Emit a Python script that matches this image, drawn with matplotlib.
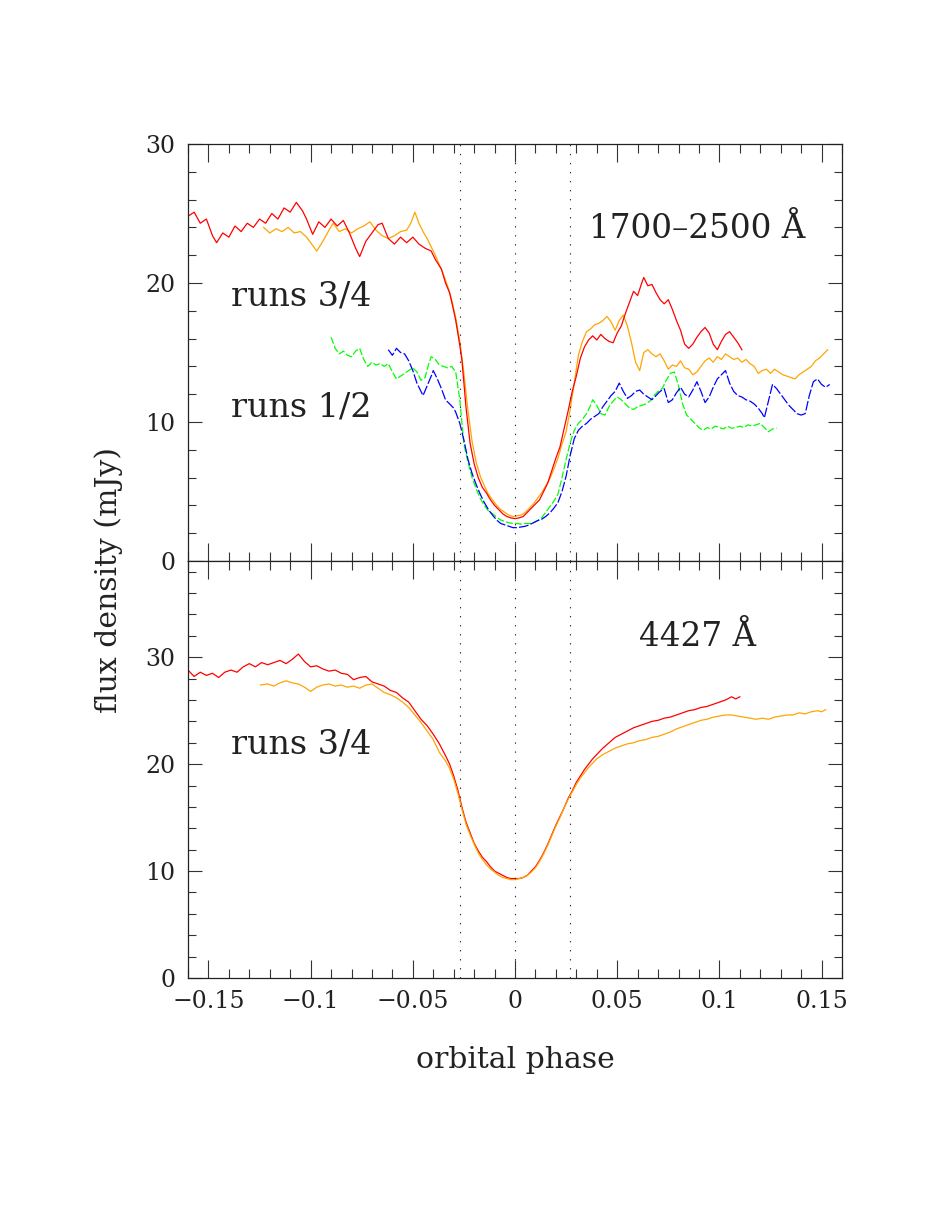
import matplotlib
matplotlib.use("Agg")
import matplotlib.pyplot as plt
from matplotlib.ticker import FixedLocator, MultipleLocator

plt.rcParams['font.family'] = ['DejaVu Serif', 'DejaVu Sans']
plt.rcParams['lines.scale_dashes'] = False

# ---- datos ----
# panel superior, 1700-2500 A
top_red_x = [-0.160, -0.157, -0.154, -0.151, -0.148, -0.146, -0.143, -0.140, -0.137, -0.134,
             -0.131, -0.128, -0.125, -0.122, -0.119, -0.116, -0.113, -0.110, -0.107, -0.104,
             -0.102, -0.099, -0.096, -0.093, -0.090, -0.087, -0.084, -0.081, -0.078, -0.076,
             -0.073, -0.070, -0.067, -0.065, -0.062, -0.059, -0.056, -0.053, -0.050, -0.047,
             -0.044, -0.041, -0.039, -0.036, -0.034, -0.032, -0.030, -0.029, -0.027, -0.026,
             -0.024, -0.022, -0.020, -0.018, -0.016, -0.014, -0.012, -0.010, -0.008, -0.006,
             -0.004, -0.002, 0.000, 0.002, 0.004, 0.006, 0.008, 0.010, 0.012, 0.014,
             0.016, 0.018, 0.020, 0.022, 0.024, 0.026, 0.028, 0.030, 0.032, 0.034,
             0.036, 0.038, 0.040, 0.042, 0.044, 0.046, 0.048, 0.050, 0.052, 0.054,
             0.056, 0.058, 0.060, 0.062, 0.063, 0.065, 0.067, 0.069, 0.071, 0.073,
             0.075, 0.077, 0.079, 0.081, 0.083, 0.085, 0.087, 0.089, 0.091, 0.093,
             0.095, 0.097, 0.099, 0.101, 0.103, 0.105, 0.107, 0.109, 0.111]
top_red_y = [24.8, 25.1, 24.3, 24.6, 23.4, 22.9, 23.6, 23.3, 24.1, 23.7,
             24.3, 24.0, 24.6, 24.3, 25.0, 24.6, 25.4, 25.1, 25.8, 25.2,
             24.6, 23.5, 24.4, 24.0, 24.6, 24.1, 24.5, 23.6, 22.5, 21.9,
             23.0, 23.6, 24.2, 24.3, 23.2, 22.8, 23.3, 22.9, 23.3, 22.8,
             22.5, 22.3, 21.7, 21.0, 20.0, 19.3, 18.0, 17.3, 15.5, 14.5,
             11.1, 8.5, 7.0, 6.0, 5.3, 4.9, 4.4, 4.0, 3.7, 3.4,
             3.2, 3.1, 3.05, 3.1, 3.2, 3.5, 3.8, 4.1, 4.4, 5.0,
             5.6, 6.5, 7.4, 8.2, 9.5, 10.8, 12.2, 13.3, 14.6, 15.4,
             15.9, 16.2, 15.9, 16.3, 16.0, 15.8, 15.7, 16.4, 16.9, 17.8,
             18.6, 19.4, 19.1, 20.0, 20.4, 19.8, 19.9, 19.3, 18.8, 18.5,
             18.8, 18.1, 17.3, 16.6, 15.6, 15.3, 15.6, 16.1, 16.5, 16.8,
             16.4, 15.6, 15.2, 15.8, 16.3, 16.5, 16.1, 15.7, 15.2]

top_orange_x = [-0.123, -0.120, -0.117, -0.114, -0.111, -0.108, -0.105, -0.102, -0.099, -0.097,
                -0.094, -0.091, -0.089, -0.086, -0.083, -0.080, -0.077, -0.074, -0.071, -0.068,
                -0.065, -0.062, -0.059, -0.056, -0.053, -0.051, -0.049, -0.047, -0.045, -0.043,
                -0.041, -0.039, -0.037, -0.035, -0.033, -0.031, -0.029, -0.027, -0.025, -0.023,
                -0.021, -0.019, -0.017, -0.015, -0.013, -0.011, -0.009, -0.007, -0.005, -0.003,
                -0.001, 0.001, 0.003, 0.005, 0.007, 0.009, 0.011, 0.013, 0.015, 0.017,
                0.019, 0.021, 0.023, 0.025, 0.027, 0.029, 0.031, 0.033, 0.035, 0.037,
                0.039, 0.041, 0.043, 0.045, 0.047, 0.049, 0.051, 0.053, 0.055, 0.057,
                0.059, 0.061, 0.063, 0.065, 0.067, 0.069, 0.071, 0.073, 0.075, 0.077,
                0.079, 0.081, 0.083, 0.085, 0.087, 0.089, 0.091, 0.093, 0.095, 0.097,
                0.099, 0.101, 0.103, 0.105, 0.107, 0.109, 0.111, 0.113, 0.115, 0.117,
                0.119, 0.121, 0.123, 0.125, 0.127, 0.129, 0.131, 0.133, 0.135, 0.137,
                0.139, 0.141, 0.143, 0.145, 0.147, 0.149, 0.151, 0.153]
top_orange_y = [24.0, 23.6, 23.9, 23.7, 24.0, 23.6, 23.7, 23.3, 22.7, 22.3,
                23.0, 23.8, 24.3, 23.7, 23.9, 23.6, 23.9, 24.1, 24.4, 23.8,
                23.4, 23.2, 23.4, 23.7, 23.8, 24.3, 25.1, 24.3, 23.7, 23.2,
                22.6, 22.0, 21.3, 20.6, 19.8, 18.8, 17.5, 15.8, 13.5, 10.8,
                8.6, 7.1, 6.1, 5.4, 4.8, 4.4, 4.0, 3.7, 3.5, 3.3,
                3.2, 3.25, 3.3, 3.5, 3.8, 4.1, 4.5, 4.9, 5.4, 5.9,
                6.6, 7.4, 8.4, 9.3, 10.9, 12.8, 14.8, 15.8, 16.5, 16.7,
                17.0, 17.1, 17.3, 17.6, 17.2, 16.6, 17.3, 17.7, 16.9, 15.7,
                14.3, 13.7, 15.0, 15.2, 14.9, 14.7, 14.9, 14.4, 13.8, 14.1,
                14.0, 14.4, 13.9, 13.8, 13.4, 13.6, 14.0, 14.4, 14.6, 14.3,
                14.7, 14.5, 14.9, 14.7, 14.5, 14.6, 14.3, 14.5, 14.2, 14.0,
                13.5, 13.7, 13.8, 13.5, 13.8, 13.6, 13.4, 13.3, 13.2, 13.1,
                13.4, 13.6, 13.8, 14.0, 14.4, 14.6, 14.9, 15.2]

top_blue_x = [-0.062, -0.060, -0.058, -0.056, -0.054, -0.052, -0.050, -0.048, -0.046, -0.045,
              -0.043, -0.041, -0.040, -0.038, -0.036, -0.034, -0.032, -0.030, -0.029, -0.027,
              -0.025, -0.023, -0.021, -0.019, -0.017, -0.015, -0.013, -0.011, -0.009, -0.007,
              -0.005, -0.003, -0.001, 0.001, 0.003, 0.005, 0.007, 0.009, 0.011, 0.013,
              0.015, 0.017, 0.019, 0.021, 0.023, 0.025, 0.027, 0.029, 0.031, 0.033,
              0.035, 0.037, 0.039, 0.041, 0.043, 0.045, 0.047, 0.049, 0.051, 0.053,
              0.055, 0.057, 0.059, 0.061, 0.063, 0.065, 0.067, 0.069, 0.071, 0.073,
              0.075, 0.077, 0.079, 0.081, 0.083, 0.085, 0.087, 0.089, 0.091, 0.093,
              0.095, 0.097, 0.099, 0.101, 0.103, 0.105, 0.107, 0.109, 0.111, 0.113,
              0.115, 0.117, 0.119, 0.121, 0.122, 0.124, 0.126, 0.128, 0.130, 0.132,
              0.134, 0.136, 0.138, 0.140, 0.142, 0.144, 0.146, 0.148, 0.150, 0.152, 0.154]
top_blue_y = [15.2, 14.8, 15.3, 15.0, 14.9, 14.4, 13.7, 12.8, 12.2, 11.9,
              12.6, 13.3, 13.7, 13.1, 12.4, 11.6, 11.3, 11.0, 10.7, 9.9,
              8.7, 7.3, 6.3, 5.5, 4.8, 4.2, 3.7, 3.3, 2.95, 2.7,
              2.6, 2.5, 2.4, 2.4, 2.45, 2.5, 2.6, 2.75, 2.9, 3.0,
              3.2, 3.45, 3.8, 4.2, 5.0, 6.1, 7.6, 8.8, 9.4, 9.7,
              9.9, 10.2, 10.4, 10.6, 11.1, 11.5, 11.9, 12.2, 12.8, 12.2,
              11.7, 11.9, 12.2, 12.3, 12.0, 11.8, 11.6, 11.9, 12.2, 12.4,
              11.4, 11.6, 12.1, 12.5, 12.0, 11.8, 12.3, 12.9, 12.2, 11.4,
              11.8, 12.5, 13.1, 13.4, 13.7, 12.8, 12.2, 11.9, 11.8, 11.6,
              11.5, 11.3, 11.0, 10.6, 10.3, 11.5, 12.7, 12.4, 12.0, 11.6,
              11.2, 10.9, 10.6, 10.5, 10.6, 11.9, 12.9, 13.1, 12.7, 12.5, 12.7]

top_green_x = [-0.090, -0.088, -0.086, -0.084, -0.082, -0.080, -0.078, -0.076, -0.074, -0.072,
               -0.070, -0.068, -0.066, -0.064, -0.062, -0.060, -0.058, -0.056, -0.054, -0.052,
               -0.050, -0.048, -0.046, -0.044, -0.042, -0.041, -0.039, -0.037, -0.035, -0.033,
               -0.031, -0.029, -0.027, -0.025, -0.023, -0.021, -0.019, -0.017, -0.015, -0.013,
               -0.011, -0.009, -0.007, -0.005, -0.003, -0.001, 0.001, 0.003, 0.005, 0.007,
               0.009, 0.011, 0.013, 0.015, 0.017, 0.019, 0.021, 0.023, 0.025, 0.027,
               0.029, 0.031, 0.033, 0.035, 0.037, 0.038, 0.040, 0.042, 0.044, 0.046,
               0.048, 0.050, 0.052, 0.054, 0.056, 0.058, 0.060, 0.062, 0.064, 0.066,
               0.068, 0.070, 0.072, 0.074, 0.076, 0.078, 0.080, 0.082, 0.084, 0.086,
               0.088, 0.090, 0.092, 0.094, 0.096, 0.098, 0.100, 0.102, 0.104, 0.106,
               0.108, 0.110, 0.112, 0.114, 0.116, 0.118, 0.120, 0.122, 0.124, 0.126, 0.128]
top_green_y = [16.1, 15.3, 14.9, 15.1, 14.8, 14.7, 15.1, 15.3, 14.5, 14.0,
               14.3, 14.1, 14.2, 14.0, 14.2, 13.6, 13.1, 13.3, 13.5, 13.7,
               13.9, 13.6, 13.0, 13.2, 14.3, 14.7, 14.5, 14.1, 14.0, 13.9,
               14.0, 13.6, 11.6, 8.4, 7.1, 6.0, 5.2, 4.5, 4.0, 3.6,
               3.4, 3.15, 2.95, 2.85, 2.75, 2.7, 2.7, 2.65, 2.7, 2.7,
               2.75, 2.9, 3.1, 3.5, 3.9, 4.3, 4.8, 6.0, 7.3, 8.5,
               9.4, 9.9, 10.2, 10.6, 11.2, 11.6, 11.2, 10.6, 10.5, 11.1,
               11.5, 11.8, 11.6, 11.3, 11.0, 10.9, 11.1, 11.2, 11.3, 11.5,
               11.9, 12.2, 12.4, 13.0, 13.5, 13.6, 12.6, 11.3, 10.5, 10.2,
               9.9, 9.6, 9.4, 9.6, 9.5, 9.7, 9.6, 9.5, 9.7, 9.55,
               9.6, 9.7, 9.6, 9.8, 9.7, 9.8, 9.9, 9.6, 9.3, 9.5, 9.55]

# panel inferior, 4427 A
bot_red_x = [-0.160, -0.157, -0.154, -0.151, -0.148, -0.145, -0.142, -0.139, -0.136, -0.133,
             -0.130, -0.127, -0.124, -0.121, -0.118, -0.115, -0.112, -0.109, -0.106, -0.103,
             -0.100, -0.097, -0.094, -0.091, -0.088, -0.085, -0.082, -0.079, -0.076, -0.073,
             -0.070, -0.067, -0.064, -0.061, -0.058, -0.055, -0.052, -0.049, -0.046, -0.043,
             -0.040, -0.037, -0.034, -0.032, -0.030, -0.028, -0.026, -0.024, -0.022, -0.020,
             -0.018, -0.016, -0.014, -0.012, -0.010, -0.008, -0.006, -0.004, -0.002, 0.000,
             0.002, 0.004, 0.006, 0.008, 0.010, 0.012, 0.014, 0.016, 0.018, 0.020,
             0.022, 0.024, 0.026, 0.028, 0.030, 0.032, 0.034, 0.036, 0.038, 0.040,
             0.043, 0.046, 0.049, 0.052, 0.055, 0.058, 0.061, 0.064, 0.067, 0.070,
             0.073, 0.076, 0.079, 0.082, 0.085, 0.088, 0.091, 0.094, 0.097, 0.100,
             0.103, 0.106, 0.108, 0.110]
bot_red_y = [28.8, 28.2, 28.6, 28.3, 28.5, 28.1, 28.6, 28.8, 28.6, 29.1,
             29.4, 29.1, 29.5, 29.3, 29.5, 29.7, 29.4, 29.8, 30.3, 29.6,
             29.1, 29.2, 28.9, 28.7, 28.8, 28.5, 28.4, 27.9, 28.1, 28.2,
             27.7, 27.5, 27.3, 26.9, 26.7, 26.2, 25.8, 25.0, 24.2, 23.6,
             22.8, 21.9, 20.8, 20.0, 18.9, 17.6, 16.0, 14.6, 13.6, 12.6,
             11.9, 11.3, 10.9, 10.4, 10.0, 9.8, 9.6, 9.4, 9.3, 9.3,
             9.3, 9.4, 9.6, 10.0, 10.4, 11.0, 11.7, 12.5, 13.4, 14.3,
             15.1, 15.9, 16.8, 17.5, 18.3, 18.9, 19.5, 20.0, 20.5, 20.9,
             21.5, 22.0, 22.5, 22.8, 23.1, 23.4, 23.6, 23.8, 24.0, 24.1,
             24.3, 24.4, 24.6, 24.8, 25.0, 25.1, 25.3, 25.4, 25.6, 25.8,
             26.0, 26.3, 26.1, 26.3]

bot_orange_x = [-0.1245, -0.121, -0.118, -0.115, -0.112, -0.109, -0.106, -0.103, -0.100, -0.097,
                -0.094, -0.091, -0.088, -0.085, -0.082, -0.079, -0.076, -0.073, -0.070, -0.067,
                -0.064, -0.061, -0.058, -0.055, -0.052, -0.049, -0.046, -0.043, -0.040, -0.037,
                -0.034, -0.032, -0.030, -0.028, -0.026, -0.024, -0.022, -0.020, -0.018, -0.016,
                -0.014, -0.012, -0.010, -0.008, -0.006, -0.004, -0.002, 0.000, 0.002, 0.004,
                0.006, 0.008, 0.010, 0.012, 0.014, 0.016, 0.018, 0.020, 0.022, 0.024,
                0.026, 0.028, 0.030, 0.032, 0.034, 0.036, 0.038, 0.040, 0.043, 0.046,
                0.049, 0.052, 0.055, 0.058, 0.061, 0.064, 0.067, 0.070, 0.073, 0.076,
                0.079, 0.082, 0.085, 0.088, 0.091, 0.094, 0.097, 0.100, 0.103, 0.106,
                0.109, 0.112, 0.115, 0.118, 0.121, 0.124, 0.127, 0.130, 0.133, 0.136,
                0.139, 0.142, 0.145, 0.148, 0.150, 0.152]
bot_orange_y = [27.4, 27.5, 27.3, 27.6, 27.8, 27.6, 27.5, 27.2, 26.8, 27.2,
                27.4, 27.5, 27.3, 27.4, 27.2, 27.3, 27.1, 27.4, 27.5, 27.1,
                26.7, 26.5, 26.2, 25.8, 25.3, 24.6, 23.9, 23.1, 22.3, 21.1,
                20.3, 19.6, 18.6, 17.3, 15.8, 14.4, 13.4, 12.5, 11.7, 11.1,
                10.6, 10.2, 9.9, 9.6, 9.4, 9.3, 9.2, 9.2, 9.3, 9.4,
                9.6, 9.9, 10.3, 10.9, 11.6, 12.4, 13.3, 14.2, 15.0, 15.9,
                16.7, 17.4, 18.1, 18.7, 19.2, 19.7, 20.1, 20.5, 20.9, 21.2,
                21.5, 21.7, 21.9, 22.0, 22.2, 22.3, 22.5, 22.6, 22.8, 23.0,
                23.3, 23.5, 23.7, 23.9, 24.1, 24.2, 24.4, 24.5, 24.6, 24.6,
                24.5, 24.4, 24.3, 24.2, 24.3, 24.2, 24.4, 24.5, 24.6, 24.6,
                24.8, 24.7, 24.9, 25.0, 24.9, 25.1]

contact_phases = [-0.027, 0.0, 0.027]
xticks = [-0.15, -0.1, -0.05, 0.0, 0.05, 0.1, 0.15]
xticklabels = ['\u22120.15', '\u22120.1', '\u22120.05', '0', '0.05', '0.1', '0.15']
yticks = [0, 10, 20, 30]

txt = '#222222'

fig = plt.figure(figsize=(9.26, 12.27), dpi=100)
W, H = 926.0, 1227.0
ax1 = fig.add_axes([188 / W, 1 - 561 / H, 654 / W, 417 / H])
ax2 = fig.add_axes([188 / W, 1 - 978 / H, 654 / W, 417 / H])

ax1.plot(top_green_x, top_green_y, color='#00ff00', lw=0.9, dashes=(5, 1.6))
ax1.plot(top_blue_x, top_blue_y, color='#0000ff', lw=0.9, dashes=(7, 1.6))
ax1.plot(top_orange_x, top_orange_y, color='#ffa500', lw=0.9)
ax1.plot(top_red_x, top_red_y, color='#ff0000', lw=0.9)

ax2.plot(bot_red_x, bot_red_y, color='#ff0000', lw=0.9)
ax2.plot(bot_orange_x, bot_orange_y, color='#ffa500', lw=0.9)

ax1.set_ylim(0, 30)
ax2.set_ylim(0, 39)

for ax in (ax1, ax2):
    ax.set_xlim(-0.16, 0.16)
    for p in contact_phases:
        ax.axvline(p, color='#333333', lw=0.8, linestyle=(0, (1.0, 5.5)))
    ax.xaxis.set_major_locator(FixedLocator(xticks))
    ax.xaxis.set_minor_locator(MultipleLocator(0.01))
    ax.yaxis.set_major_locator(FixedLocator(yticks))
    ax.yaxis.set_minor_locator(MultipleLocator(2))
    ax.tick_params(axis='both', which='both', direction='in', top=True, right=True,
                   color='#333333', width=0.8, labelcolor=txt, labelsize=17)
    ax.tick_params(axis='x', which='major', length=13, pad=9)
    ax.tick_params(axis='x', which='minor', length=6.5)
    ax.tick_params(axis='y', which='major', length=10, pad=9)
    ax.tick_params(axis='y', which='minor', length=5.5)
    for s in ax.spines.values():
        s.set_linewidth(0.9)
        s.set_color('#222222')

ax1.set_xticklabels([])
ax1.set_yticklabels([str(v) for v in yticks])
ax2.set_xticklabels(xticklabels)
ax2.set_yticklabels([str(v) for v in yticks])

ax1.text(0.0364, 23.24, '1700\u20132500 \u00c5', fontsize=23.5, color=txt, ha='left', va='baseline')
ax1.text(-0.1392, 18.37, 'runs 3/4', fontsize=24, color=txt, ha='left', va='baseline')
ax1.text(-0.1392, 10.38, 'runs 1/2', fontsize=24, color=txt, ha='left', va='baseline')
ax2.text(0.0609, 31.06, '4427 \u00c5', fontsize=23.5, color=txt, ha='left', va='baseline')
ax2.text(-0.1392, 21.0, 'runs 3/4', fontsize=24, color=txt, ha='left', va='baseline')

fig.text(515.7 / W, 1 - 1068 / H, 'orbital phase', fontsize=21.5, color=txt,
         ha='center', va='baseline')
fig.text(109 / W, 1 - 580 / H, 'flux density (mJy)', fontsize=21.5, color=txt,
         rotation=90, ha='center', va='center')

fig.savefig('out.png', dpi=100)
